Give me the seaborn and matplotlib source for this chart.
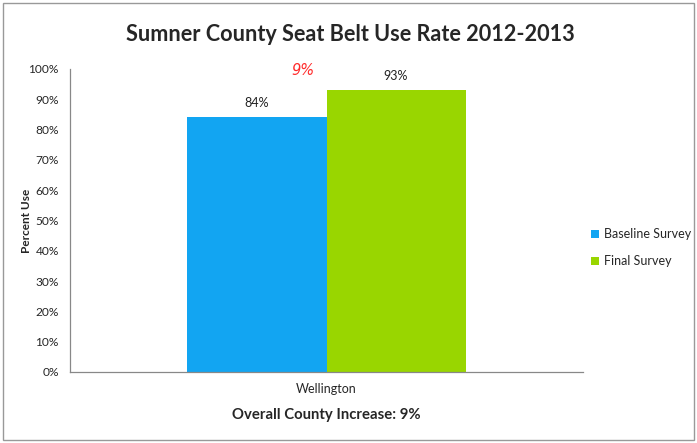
import pandas as pd
import matplotlib.pyplot as plt
import seaborn as sns
from matplotlib.patches import Rectangle

# data
locations = ["Wellington"]
surveys = ["Baseline Survey", "Final Survey"]
use_rate = [84, 93]
increase_label = "9%"
overall_note = "Overall County Increase: 9%"

df = pd.DataFrame({
    "location": locations * len(surveys),
    "survey": surveys,
    "rate": use_rate,
})

sns.set_theme(style="white")
plt.rcParams["font.family"] = ["Lato", "DejaVu Sans"]

fig = plt.figure(figsize=(6.97, 4.43), dpi=100)
ax = fig.add_axes([70 / 697, 71 / 443, 513 / 697, 303 / 443])

palette = {"Baseline Survey": "#12a5f2", "Final Survey": "#99d600"}
sns.barplot(data=df, x="location", y="rate", hue="survey", palette=palette,
            width=0.542, saturation=1, linewidth=0, ax=ax, legend=True)

ax.set_xlim(-0.5, 0.5)
ax.set_ylim(0, 100)
ax.set_yticks(range(0, 101, 10))
ax.set_yticklabels([f"{v}%" for v in range(0, 101, 10)], fontsize=8.6)
ax.tick_params(axis="y", direction="out", length=4, width=0.8, color="#888888", pad=4)
ax.tick_params(axis="x", length=0, labelsize=9, pad=8)
ax.set_xlabel("")
ax.set_ylabel("Percent Use", fontsize=8.5, fontweight="bold")
ax.yaxis.set_label_coords(-0.074, 0.5)
for s in ["top", "right"]:
    ax.spines[s].set_visible(False)
for s in ["left", "bottom"]:
    ax.spines[s].set_color("#888888")
    ax.spines[s].set_linewidth(0.9)

for cont in ax.containers:
    ax.bar_label(cont, labels=[f"{v:.0f}%" for v in cont.datavalues],
                 padding=6, fontsize=9, color="#222222")

ax.text(-0.045, 99.5, increase_label, color="#ff2a2a", fontsize=10.5, style="italic",
        family="DejaVu Sans", ha="center", va="center")

ax.legend(loc="center left", bbox_to_anchor=(1.0, 0.41), frameon=False,
          fontsize=9, handlelength=0.7, handleheight=0.7, handletextpad=0.4,
          labelspacing=1.2, borderaxespad=0.2)

fig.text(0.502, 0.921, "Sumner County Seat Belt Use Rate 2012-2013", ha="center",
         va="center", fontsize=15.6, fontweight="bold")
fig.text(326.5 / 697, 1 - 415 / 443, overall_note, ha="center", va="center",
         fontsize=10.7, fontweight="bold")

fig.add_artist(Rectangle((3 / 697, 3 / 443), 691 / 697, 437 / 443, fill=False,
                         edgecolor="#999999", linewidth=1, transform=fig.transFigure))

fig.savefig("out.png", dpi=100)
